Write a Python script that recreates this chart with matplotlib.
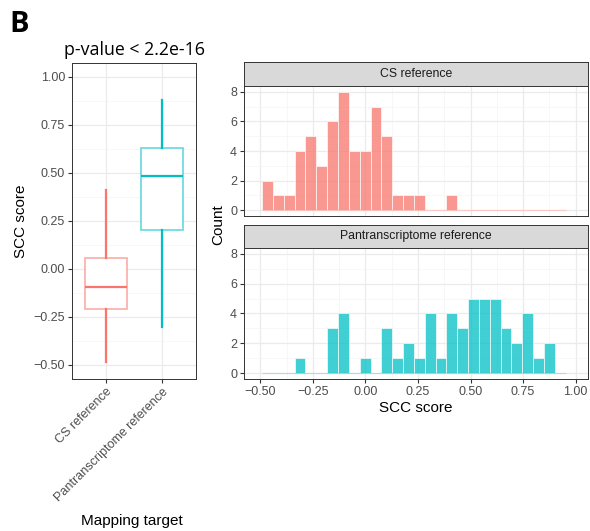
## SCC score comparison: boxplot + faceted histograms
import matplotlib
matplotlib.use("Agg")
import matplotlib.pyplot as plt
from matplotlib.ticker import MultipleLocator

plt.rcParams['font.family'] = ['Liberation Sans', 'DejaVu Sans']

# data
groups = ["CS reference", "Pantranscriptome reference"]
colors = ["#F8766D", "#00BFC4"]
# boxplot summaries: whisker low, Q1, median, Q3, whisker high
box_whislo = [-0.487, -0.302]
box_q1 = [-0.212, 0.201]
box_med = [-0.097, 0.481]
box_q3 = [0.055, 0.627]
box_whishi = [0.41, 0.877]

# histogram bins (shared by both facets)
bin_start = -0.492
bin_width = 0.0516
cs_counts = [2, 1, 1, 4, 5, 3, 6, 8, 4, 4, 7, 5, 1, 1, 1, 0, 0, 1, 0, 0, 0, 0, 0, 0, 0, 0, 0, 0]
pan_counts = [0, 0, 0, 1, 0, 0, 3, 4, 0, 1, 0, 3, 1, 2, 1, 4, 1, 4, 3, 5, 5, 5, 3, 2, 4, 1, 2, 0]

W, H = 590, 531
fig = plt.figure(figsize=(W / 100, H / 100), dpi=100)

def px_axes(x0, y0, x1, y1):
    return fig.add_axes([x0 / W, 1 - y1 / H, (x1 - x0) / W, (y1 - y0) / H])

def style(ax):
    ax.set_facecolor("white")
    for s in ax.spines.values():
        s.set_color("#333333")
        s.set_linewidth(0.7)
    ax.tick_params(which="major", length=3, width=0.8, color="#333333",
                   labelsize=9, labelcolor="#4D4D4D", pad=2)
    ax.tick_params(which="minor", length=0)
    ax.grid(which="major", color="#EBEBEB", lw=0.9)
    ax.grid(which="minor", color="#F4F4F4", lw=0.5)
    ax.set_axisbelow(True)

# ---- boxplot
ax = px_axes(72, 63, 196, 379)
style(ax)
stats = []
for i in range(len(groups)):
    stats.append(dict(whislo=box_whislo[i], q1=box_q1[i], med=box_med[i],
                      q3=box_q3[i], whishi=box_whishi[i], fliers=[]))
bp = ax.bxp(stats, positions=[1, 2], widths=0.75, showcaps=False, patch_artist=True)
for i, c in enumerate(colors):
    bp["boxes"][i].set(facecolor="white", linewidth=1.2)
    bp["boxes"][i].set_edgecolor(matplotlib.colors.to_rgba(c, 0.6))
    bp["medians"][i].set(color=c, linewidth=1.6)
    for w in bp["whiskers"][2 * i:2 * i + 2]:
        w.set(color=c, linewidth=1.6)
ax.set_xlim(0.4, 2.6)
ax.set_ylim(-0.574, 1.071)
ax.yaxis.set_minor_locator(MultipleLocator(0.125))
ax.set_yticks([1.0, 0.75, 0.5, 0.25, 0.0, -0.25, -0.5])
ax.set_yticklabels(["1.00", "0.75", "0.50", "0.25", "0.00", "\u22120.25", "\u22120.50"])
ax.set_xticks([1, 2])
ax.set_xticklabels(groups, rotation=45, ha="right", rotation_mode="anchor")
ax.set_ylabel("SCC score", fontsize=11, labelpad=4)
ax.set_title("p-value < 2.2e-16", fontsize=12.8, family=["Open Sans", "DejaVu Sans"], pad=6)

fig.text(132 / W, 1 - 521 / H, "Mapping target", ha="center", va="center", fontsize=11)

# ---- histograms
edges = [bin_start + k * bin_width for k in range(len(cs_counts) + 1)]
panels = [(62, 86, 216, groups[0], cs_counts, colors[0]),
          (225, 248, 379, groups[1], pan_counts, colors[1])]
hist_axes = []
for (ys, y0, y1, name, counts, c) in panels:
    sax = px_axes(244, ys, 588, y0)
    sax.set_facecolor("#D9D9D9")
    sax.set_xticks([]); sax.set_yticks([])
    for s in sax.spines.values():
        s.set_color("#333333"); s.set_linewidth(0.7)
    sax.text(0.5, 0.5, name, ha="center", va="center", fontsize=8.8, color="#1A1A1A",
             transform=sax.transAxes)

    hax = px_axes(244, y0, 588, y1)
    style(hax)
    hax.bar(edges[:-1], counts, width=bin_width, align="edge", color=c, alpha=0.75,
            edgecolor=matplotlib.colors.to_rgba("white", 0.35), linewidth=0.6)
    hax.hlines(0, edges[0], edges[-1], color=c, alpha=0.35, lw=0.8)
    hax.set_xlim(-0.578, 1.059)
    hax.set_ylim(-0.4, 8.4)
    hax.xaxis.set_major_locator(MultipleLocator(0.25))
    hax.xaxis.set_minor_locator(MultipleLocator(0.125))
    hax.yaxis.set_major_locator(MultipleLocator(2))
    hax.yaxis.set_minor_locator(MultipleLocator(1))
    hist_axes.append(hax)

hist_axes[0].tick_params(axis="x", which="major", length=0, labelbottom=False)
hx = hist_axes[1]
xt = [-0.5, -0.25, 0.0, 0.25, 0.5, 0.75, 1.0]
hx.set_xticks(xt)
hx.set_xticklabels(["\u22120.50", "\u22120.25", "0.00", "0.25", "0.50", "0.75", "1.00"])
hx.set_xlabel("SCC score", fontsize=11, labelpad=2)

fig.text(218 / W, 1 - 225 / H, "Count", rotation=90, ha="center", va="center", fontsize=11)
fig.text(9 / W, 1 - 25 / H, "B", fontsize=21, fontweight="bold",
         family=["Open Sans", "DejaVu Sans"], ha="left", va="center")

fig.savefig("out.png", dpi=100)
